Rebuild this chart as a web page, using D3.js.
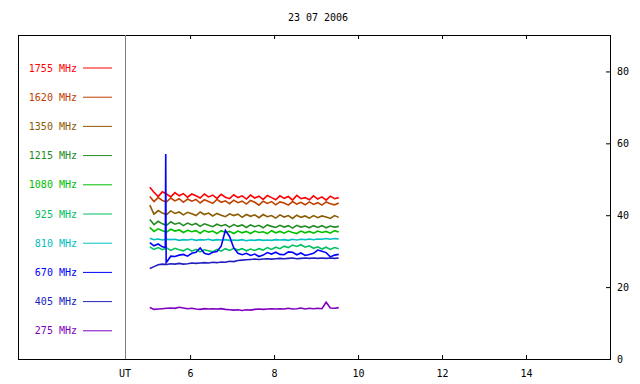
<!DOCTYPE html>
<html>
<head>
<meta charset="utf-8">
<script src="https://cdn.jsdelivr.net/npm/d3@7"></script>
<style>
	body { margin: 0; background: #fff; }
	text { font-family: "DejaVu Sans Mono", monospace; font-size: 10px; }
</style>
</head>
<body>
<div id="chart-area"></div>
<script>
// title and axis ticks
var title = "23 07 2006";
var hourTicks = [6, 8, 10, 12, 14];
var valueTicks = [0, 20, 40, 60, 80];

// legend, top to bottom
var freqs = ["1755 MHz", "1620 MHz", "1350 MHz", "1215 MHz", "1080 MHz",
	"925 MHz", "810 MHz", "670 MHz", "405 MHz", "275 MHz"];
var colors = ["#ff0000", "#c04000", "#8c5a00", "#228b22", "#00c000",
	"#00c060", "#00c0c0", "#0000ff", "#2020c0", "#8000c0"];

// sample times (UT hours)
var times = [5.04, 5.14, 5.24, 5.34, 5.44, 5.54, 5.64, 5.74, 5.84, 5.94,
	6.04, 6.14, 6.24, 6.34, 6.44, 6.54, 6.64, 6.74, 6.84, 6.94,
	7.04, 7.14, 7.24, 7.34, 7.44, 7.54, 7.64, 7.74, 7.84, 7.94,
	8.04, 8.14, 8.24, 8.34, 8.44, 8.54, 8.64, 8.74, 8.84, 8.94,
	9.04, 9.14, 9.24, 9.34, 9.44, 9.54];
// 670 MHz has extra samples around its burst
var times670 = [5.04, 5.14, 5.24, 5.34, 5.41, 5.42, 5.43, 5.54, 5.64, 5.74, 5.84, 5.94,
	6.04, 6.14, 6.24, 6.34, 6.44, 6.54, 6.64, 6.74, 6.84, 6.94,
	7.04, 7.14, 7.24, 7.34, 7.44, 7.54, 7.64, 7.74, 7.84, 7.94,
	8.04, 8.14, 8.24, 8.34, 8.44, 8.54, 8.64, 8.74, 8.84, 8.94,
	9.04, 9.14, 9.24, 9.34, 9.44, 9.54];

var f1755 = [47.8, 46.4, 45.2, 46.5, 45.9, 45.1, 46.3, 45.4, 46.0, 45.0,
	45.9, 45.4, 44.8, 45.9, 45.1, 45.6, 44.7, 45.8, 45.0, 44.6,
	45.7, 44.9, 45.4, 44.5, 45.6, 44.8, 45.3, 44.4, 45.5, 44.9,
	44.3, 45.4, 44.7, 45.2, 44.2, 45.5, 44.6, 44.9, 44.3, 45.4,
	44.5, 45.1, 44.2, 45.3, 44.6, 44.9];
var f1620 = [45.2, 43.8, 44.9, 44.1, 43.7, 44.8, 44.0, 44.6, 43.6, 44.5,
	43.9, 44.4, 43.4, 44.3, 43.8, 43.3, 44.4, 43.6, 44.0, 43.2,
	44.2, 43.5, 43.9, 43.1, 44.1, 43.6, 42.8, 43.9, 43.3, 43.8,
	42.9, 43.7, 43.4, 42.8, 43.8, 43.1, 43.6, 42.9, 43.7, 43.0,
	43.5, 42.8, 43.7, 43.2, 42.9, 43.4];
var f1350 = [42.8, 40.3, 41.3, 40.6, 40.2, 41.2, 40.5, 40.9, 40.1, 40.8,
	40.4, 39.9, 40.9, 40.2, 40.6, 39.8, 40.5, 40.0, 39.6, 40.4,
	39.9, 40.3, 39.4, 40.2, 39.7, 40.1, 39.3, 40.2, 39.6, 39.9,
	39.2, 40.1, 39.5, 39.9, 39.1, 40.0, 39.4, 39.8, 39.2, 39.9,
	39.3, 39.8, 39.5, 39.1, 39.9, 39.4];
var f1215 = [38.8, 37.4, 38.3, 37.6, 37.2, 38.2, 37.5, 37.9, 37.1, 37.8,
	37.3, 37.7, 36.9, 37.6, 37.2, 36.8, 37.5, 37.0, 37.4, 36.7,
	37.4, 36.9, 37.3, 36.6, 37.3, 36.8, 37.2, 36.5, 37.3, 36.9,
	36.6, 37.2, 36.7, 37.1, 36.4, 37.2, 36.7, 37.0, 36.5, 37.1,
	36.6, 37.1, 36.5, 37.0, 36.7, 36.9];
var f1080 = [36.6, 35.5, 36.2, 35.7, 35.3, 36.1, 35.6, 35.9, 35.2, 35.8,
	35.4, 35.7, 35.0, 35.8, 35.3, 35.6, 34.9, 35.7, 35.2, 35.5,
	34.9, 35.6, 35.1, 35.5, 34.9, 35.6, 35.2, 35.4, 34.9, 35.7,
	35.1, 35.5, 35.0, 35.6, 35.2, 34.9, 35.6, 35.1, 35.5, 35.0,
	35.6, 35.2, 35.5, 35.0, 35.7, 35.3];
var f925 = [31.2, 30.5, 31.0, 30.4, 30.9, 30.2, 30.8, 30.4, 30.1, 30.7,
	30.0, 30.5, 29.8, 30.4, 30.1, 29.8, 30.5, 30.0, 30.7, 30.2,
	30.8, 30.3, 30.7, 30.1, 30.6, 30.2, 30.7, 30.3, 31.0, 30.5,
	31.1, 30.7, 31.4, 31.0, 31.7, 31.3, 31.8, 31.1, 31.5, 30.8,
	31.2, 30.6, 31.1, 30.5, 31.0, 30.7];
var f810 = [33.6, 33.2, 33.4, 33.1, 33.3, 33.2, 33.3, 33.0, 33.2, 33.1,
	33.3, 33.0, 33.2, 33.1, 33.3, 33.0, 33.2, 33.1, 33.2, 33.0,
	33.1, 33.0, 33.2, 32.9, 33.1, 33.0, 33.2, 33.0, 33.1, 33.0,
	33.2, 33.1, 33.2, 33.0, 33.3, 33.1, 33.3, 33.2, 33.4, 33.2,
	33.4, 33.3, 33.5, 33.3, 33.5, 33.4];
var f670 = [32.4, 31.5, 32.0, 31.2, 31.0, 57.0, 26.8, 28.6, 28.5, 28.9, 29.1, 28.6,
	29.4, 29.7, 30.9, 29.4, 29.1, 29.7, 29.9, 31.4, 35.8, 34.1,
	30.9, 29.4, 29.0, 29.4, 28.8, 29.2, 28.5, 28.9, 29.6, 29.2,
	29.7, 29.1, 29.0, 29.8, 29.7, 29.0, 29.5, 28.8, 29.1, 29.4,
	30.3, 30.0, 29.6, 28.4, 28.9, 29.1];
var f405 = [25.2, 25.7, 26.2, 26.4, 26.3, 26.5, 26.4, 26.6, 26.4, 26.5,
	26.7, 26.6, 26.7, 26.8, 26.7, 26.9, 26.8, 27.0, 26.9, 27.2,
	27.1, 27.4, 27.5, 27.6, 27.7, 27.8, 27.7, 27.8, 27.9, 27.8,
	27.9, 28.0, 27.9, 28.0, 28.1, 27.9, 28.0, 28.1, 28.0, 28.1,
	28.0, 28.1, 28.0, 28.1, 28.0, 28.1];
var f275 = [14.3, 13.8, 13.9, 14.0, 14.1, 14.2, 14.1, 14.4, 14.2, 14.0,
	14.1, 13.9, 13.8, 14.0, 13.9, 14.0, 13.9, 14.0, 13.8, 13.7,
	13.6, 13.7, 13.5, 13.7, 13.6, 13.8, 13.9, 13.8, 13.9, 14.0,
	13.9, 14.0, 13.9, 14.1, 13.9, 14.0, 14.2, 13.9, 14.1, 14.0,
	14.1, 14.0, 15.8, 14.2, 14.1, 14.3];

var series = [f1755, f1620, f1350, f1215, f1080, f925, f810, f670, f405, f275];
var seriesTimes = [times, times, times, times, times, times, times, times670, times, times];

var W = 640, H = 384;
var frame = { left: 18, right: 610, top: 35, bottom: 359 };
var plotLeft = 125;

var svg = d3.select("#chart-area")
	.append("svg")
	.attr("width", W)
	.attr("height", H);

var x = d3.scaleLinear()
	.domain([4.45, 16])
	.range([plotLeft, frame.right]);
var y = d3.scaleLinear()
	.domain([0, 90])
	.range([frame.bottom, frame.top + 0.5]);

// title
svg.append("text")
	.attr("x", 318)
	.attr("y", 21)
	.attr("text-anchor", "middle")
	.text(title);

// bottom axis (ticks point up)
svg.append("g")
	.attr("transform", `translate(0, ${frame.bottom})`)
	.call(d3.axisBottom(x).tickValues(hourTicks).tickSizeInner(-4).tickSizeOuter(0).tickPadding(11));
// top axis (ticks point down)
svg.append("g")
	.attr("transform", `translate(0, ${frame.top})`)
	.call(d3.axisTop(x).tickValues(hourTicks).tickSizeInner(-4).tickSizeOuter(0).tickFormat(""));
// right axis (ticks point left)
svg.append("g")
	.attr("transform", `translate(${frame.right}, 0)`)
	.call(d3.axisRight(y).tickValues(valueTicks).tickSizeInner(-4).tickSizeOuter(0).tickPadding(7));

svg.selectAll(".domain").remove();
svg.selectAll(".tick line").attr("stroke", "#000");
svg.selectAll(".tick text")
	.attr("fill", "#000")
	.style("font-family", "DejaVu Sans Mono, monospace")
	.style("font-size", "10px");

// frame
svg.append("rect")
	.attr("x", frame.left + 0.5)
	.attr("y", frame.top + 0.5)
	.attr("width", frame.right - frame.left)
	.attr("height", frame.bottom - frame.top)
	.attr("fill", "none")
	.attr("stroke", "#000");

// UT separator
svg.append("line")
	.attr("x1", plotLeft + 0.5).attr("x2", plotLeft + 0.5)
	.attr("y1", frame.top).attr("y2", frame.bottom)
	.attr("stroke", "#808080");

svg.append("text")
	.attr("x", plotLeft)
	.attr("y", frame.bottom + 18)
	.attr("text-anchor", "middle")
	.text("UT");

// legend
var row = d3.scaleLinear().domain([0, 9]).range([67.5, 330.3]);
var legend = svg.append("g").selectAll("g")
	.data(freqs)
	.enter()
	.append("g")
	.attr("transform", (d, i) => `translate(0, ${row(i)})`);
legend.append("text")
	.attr("x", 77)
	.attr("y", 4)
	.attr("text-anchor", "end")
	.attr("fill", (d, i) => colors[i])
	.text(d => d);
legend.append("line")
	.attr("x1", 83).attr("x2", 112)
	.attr("y1", 0.5).attr("y2", 0.5)
	.attr("stroke", (d, i) => colors[i]);

// data lines
svg.append("g").selectAll("path")
	.data(series)
	.enter()
	.append("path")
	.attr("d", (d, k) => d3.line()
		.x((v, i) => x(seriesTimes[k][i]))
		.y(v => y(v))(d))
	.attr("fill", "none")
	.attr("stroke", (d, i) => colors[i])
	.attr("stroke-width", 1.6);
</script>
</body>
</html>
